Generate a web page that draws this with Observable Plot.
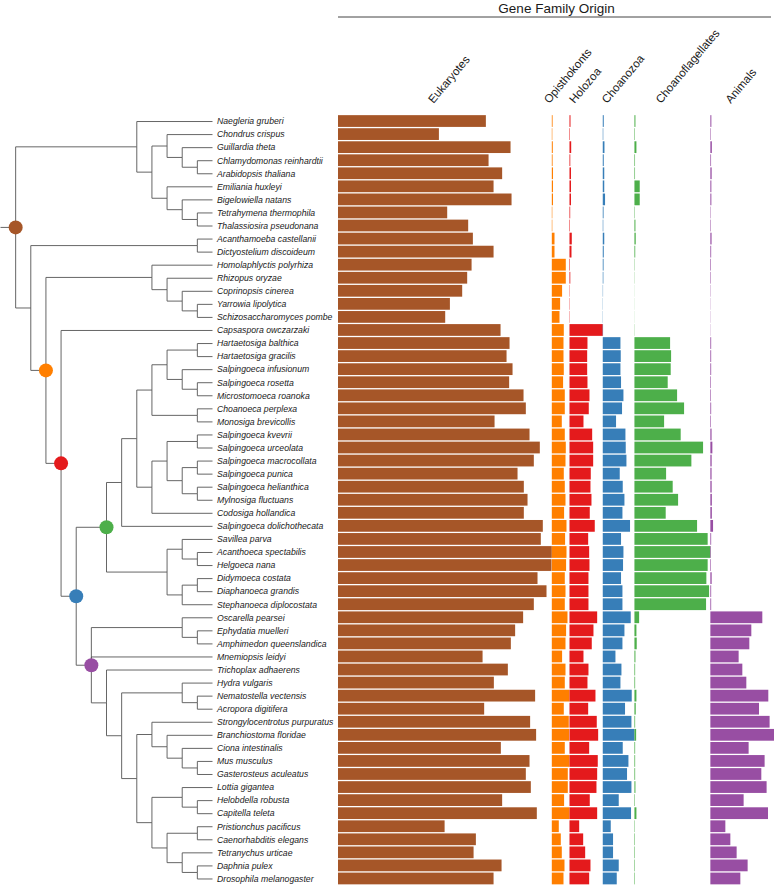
<!DOCTYPE html>
<html><head><meta charset="utf-8">
<script src="https://cdn.jsdelivr.net/npm/d3@7"></script>
<script src="https://cdn.jsdelivr.net/npm/@observablehq/plot@0.6"></script>
<style>
html,body{margin:0;padding:0;background:#fff;overflow:hidden}
#chart{display:flex;width:774px;height:885px}
#chart svg{display:block}
</style></head><body><div id="chart"></div>
<script>
// ---- Tree topology (Newick, internal clade labels mark gene-family origins) ----
const newick =
  "((Naegleria_gruberi,((Chondrus_crispus,(Guillardia_theta,(Chlamydomonas_reinhardtii,Arabidopsis_thaliana))),(Emiliania_huxleyi,(Bigelowiella_natans,(Tetrahymena_thermophila,Thalassiosira_pseudonana))))),"
+ "((Acanthamoeba_castellanii,Dictyostelium_discoideum),"
+ "((Homolaphlyctis_polyrhiza,(Rhizopus_oryzae,(Coprinopsis_cinerea,(Yarrowia_lipolytica,Schizosaccharomyces_pombe)))),"
+ "(Capsaspora_owczarzaki,"
+ "(((((((Hartaetosiga_balthica,Hartaetosiga_gracilis),(Salpingoeca_infusionum,(Salpingoeca_rosetta,Microstomoeca_roanoka))),(Choanoeca_perplexa,Monosiga_brevicollis)),"
+ "(((Salpingoeca_kvevrii,Salpingoeca_urceolata),((Salpingoeca_macrocollata,Salpingoeca_punica),(Salpingoeca_helianthica,Mylnosiga_fluctuans))),Codosiga_hollandica)),Salpingoeca_dolichothecata),"
+ "((Savillea_parva,(Acanthoeca_spectabilis,Helgoeca_nana)),((Didymoeca_costata,Diaphanoeca_grandis),Stephanoeca_diplocostata)))Choanoflagellates,"
+ "((Oscarella_pearsei,(Ephydatia_muelleri,Amphimedon_queenslandica)),Mnemiopsis_leidyi,"
+ "(Trichoplax_adhaerens,((Hydra_vulgaris,(Nematostella_vectensis,Acropora_digitifera)),"
+ "((Strongylocentrotus_purpuratus,(Branchiostoma_floridae,(Ciona_intestinalis,(Mus_musculus,Gasterosteus_aculeatus)))),"
+ "((Lottia_gigantea,(Helobdella_robusta,Capitella_teleta)),((Pristionchus_pacificus,Caenorhabditis_elegans),(Tetranychus_urticae,(Daphnia_pulex,Drosophila_melanogaster))))))))Animals"
+ ")Choanozoa)Holozoa)Opisthokonts))Eukaryotes;";

// ---- Species (rows) ----
const species = ["Naegleria gruberi","Chondrus crispus","Guillardia theta","Chlamydomonas reinhardtii","Arabidopsis thaliana","Emiliania huxleyi","Bigelowiella natans","Tetrahymena thermophila","Thalassiosira pseudonana","Acanthamoeba castellanii","Dictyostelium discoideum","Homolaphlyctis polyrhiza","Rhizopus oryzae","Coprinopsis cinerea","Yarrowia lipolytica","Schizosaccharomyces pombe","Capsaspora owczarzaki","Hartaetosiga balthica","Hartaetosiga gracilis","Salpingoeca infusionum","Salpingoeca rosetta","Microstomoeca roanoka","Choanoeca perplexa","Monosiga brevicollis","Salpingoeca kvevrii","Salpingoeca urceolata","Salpingoeca macrocollata","Salpingoeca punica","Salpingoeca helianthica","Mylnosiga fluctuans","Codosiga hollandica","Salpingoeca dolichothecata","Savillea parva","Acanthoeca spectabilis","Helgoeca nana","Didymoeca costata","Diaphanoeca grandis","Stephanoeca diplocostata","Oscarella pearsei","Ephydatia muelleri","Amphimedon queenslandica","Mnemiopsis leidyi","Trichoplax adhaerens","Hydra vulgaris","Nematostella vectensis","Acropora digitifera","Strongylocentrotus purpuratus","Branchiostoma floridae","Ciona intestinalis","Mus musculus","Gasterosteus aculeatus","Lottia gigantea","Helobdella robusta","Capitella teleta","Pristionchus pacificus","Caenorhabditis elegans","Tetranychus urticae","Daphnia pulex","Drosophila melanogaster"];

// ---- Gene families per origin (hundreds), same order as species ----
const eukaryotes = [148,101,172.7,150.7,164.3,155.7,173.7,109.3,130.3,135,155.7,133.7,129.3,124.3,112,107.3,162.7,171.7,168.7,174.7,171.3,185.7,188,156.7,191.7,202,196,179.7,186,189.7,186,205,203,214,213.7,199.7,208.7,196,185.3,177.3,173,144.7,170,156,197.3,146.3,192.3,198.3,163,191.7,188,193,164.3,199,106.7,138,135.7,163.7,155.7];
const opisthokonts = [0.8,0.5,1,0.8,1.2,1.2,1.2,0.5,0.5,2.7,2.7,14,14,10.3,8.3,7.7,12,11.7,11.7,12,11.3,13,13,10,13,14,13.7,12,13,13.7,12.3,14.7,13.3,14.7,14.3,13,13.7,13,15.7,14.3,13.7,10.3,13.7,13,17.7,12,17,17.3,13,17.7,16,16,12.3,17.7,7,9,10,12.7,11.7];
const holozoa = [1,0.5,1.7,0.8,1.5,1.5,1.5,0.7,0.5,2.3,2,0.5,0.8,0.3,0.3,0.3,33.3,18,17.7,17.7,18,20,19.3,14,22.7,23.7,23.7,21.3,21,22,20.3,25.3,18.7,19.7,20,19,19,19,27.7,24,22.3,14,19,18,26,18.7,27.3,28.7,19.7,28.3,27.7,27,20.3,27.7,9.7,13.7,15.7,21,19.7];
const choanozoa = [1,0.5,1.7,1,1.5,1.5,2.3,0.8,0.5,1.5,1,0.8,0.6,0.3,0.2,0.2,0.3,17.7,18,17.7,18.3,20.7,19.3,13.3,22.7,23,23.7,17,20,21.7,19.7,27.3,18.3,20.7,20.3,18.3,19.7,19.7,28,21.7,19.7,12.7,18.7,17.7,29,22.3,28.7,31.7,20,25.7,24.3,28.7,16,28.3,8,10.3,10.3,16,14];
const choanoflagellates = [1,0.5,2,0.6,0.6,5.3,5.3,0.4,1,1.3,0.8,0.3,0.2,0.1,0.1,0.1,0.2,35.7,36.7,36.3,33.3,42.7,49.7,29.7,46.3,68.7,57,31.7,38.3,43.7,31.3,62.7,73.3,76,73.3,72,74.7,71.7,4.7,2,2.3,1,0.7,0.7,2,1.3,0.7,1.7,0.7,0.7,0.7,1,0.5,2,0.4,0.5,0.5,0.5,0.5];
const animals = [1,0.5,1.5,0.7,1.3,1,1,0.4,0.5,1.2,0.8,0.6,0.5,0.3,0.2,0.2,0.2,0.8,0.8,0.8,0.6,0.6,0.8,0.6,1.2,2,1.3,1.2,1.3,1.5,1.5,2.7,0.8,0.6,0.6,1.3,0.8,0.8,52,41,39,28.3,32,36,58,48.7,59.3,63.7,38.3,54.3,51,56.3,33.3,57.7,15,20,26.3,37.3,30];

const columns = ["Eukaryotes","Opisthokonts","Holozoa","Choanozoa","Choanoflagellates","Animals"];
const colors = ["#A65628","#FF7F00","#E41A1C","#377EB8","#4DAF4A","#984EA3"];
const title = "Gene Family Origin";

// ---- Parse & lay out tree (leaves equally spaced, nodes by height) ----
function parseNewick(s) {
  let i = 0;
  function node() {
    const n = {children: [], name: ""};
    if (s[i] === "(") {
      i++;
      n.children.push(node());
      while (s[i] === ",") { i++; n.children.push(node()); }
      i++;
    }
    let name = "";
    while (i < s.length && !",();".includes(s[i])) name += s[i++];
    n.name = name.replace(/_/g, " ").trim();
    return n;
  }
  return node();
}
const tree = parseNewick(newick);
function height(n) { n.h = n.children.length ? 1 + Math.max(...n.children.map(height)) : 0; return n.h; }
height(tree);
const H = tree.h;
const leaves = [];
function place(n) {
  if (!n.children.length) { n.row = leaves.length; leaves.push(n); }
  else { n.children.forEach(place); n.row = (n.children[0].row + n.children[n.children.length - 1].row) / 2; }
  n.depth = H - n.h;
}
place(tree);
const nodes = [], links = [];
(function walk(n) {
  nodes.push(n);
  n.children.forEach(c => { links.push({x1: n.depth, y1: n.row, x2: c.depth, y2: c.row}); walk(c); });
})(tree);
links.push({x1: -1, y1: tree.row, x2: 0, y2: tree.row}); // root edge
const cladeNodes = nodes.filter(n => columns.includes(n.name));
const nRows = leaves.length;

const font = "'Liberation Sans', Arial, Helvetica, sans-serif";
const H_PX = 885, TOP = 114.5;

const treePlot = Plot.plot({
  width: 338, height: H_PX,
  marginTop: TOP, marginBottom: 0, marginLeft: 0, marginRight: 126,
  style: {fontFamily: font, background: "white"},
  x: {domain: [-1, H], axis: null},
  y: {domain: [-0.5, nRows - 0.5], reverse: true, axis: null},
  color: {domain: columns, range: colors},
  marks: [
    Plot.link(links, {x1: "x1", y1: "y1", x2: "x2", y2: "y2", curve: "step-before", stroke: "#555", strokeWidth: 0.9}),
    Plot.dot(cladeNodes, {x: "depth", y: "row", r: 7, fill: "name"}),
    Plot.text(leaves, {x: "depth", y: "row", text: "name", dx: 4.5, textAnchor: "start", fontStyle: "italic", fontSize: 8.7, fill: "#222"})
  ]
});

// ---- Bars: each origin column offset by the maxima of the previous ones ----
const values = [eukaryotes, opisthokonts, holozoa, choanozoa, choanoflagellates, animals];
const maxes = values.map(v => d3.max(v));
const offsets = Array.from(d3.cumsum([0, ...maxes.slice(0, -1)]));
const total = d3.sum(maxes);
const rowOf = new Map(leaves.map(l => [l.name, l.row]));
const bars = [];
columns.forEach((c, k) => species.forEach((s, i) => {
  const r = rowOf.get(s);
  bars.push({col: c, x1: offsets[k], x2: offsets[k] + values[k][i], y1: r - 0.5, y2: r + 0.5});
}));
const headers = columns.map((c, k) => ({col: c, x: offsets[k] + maxes[k] / 2}));

const barPlot = Plot.plot({
  width: 436, height: H_PX,
  marginTop: TOP, marginBottom: 0, marginLeft: 0, marginRight: 0,
  style: {fontFamily: font, background: "white", overflow: "visible"},
  x: {domain: [0, total], axis: null},
  y: {domain: [-0.5, nRows - 0.5], reverse: true, axis: null},
  color: {domain: columns, range: colors},
  marks: [
    Plot.rect(bars, {x1: "x1", x2: "x2", y1: "y1", y2: "y2", fill: "col", insetTop: 0.65, insetBottom: 0.65}),
    Plot.text(headers, {x: "x", text: "col", frameAnchor: "top", dx: -12, dy: -11, rotate: -50, textAnchor: "start", lineAnchor: "bottom", fontSize: 11.5, fill: "#1a1a1a"}),
    Plot.text([title], {frameAnchor: "top", dy: -102, lineAnchor: "bottom", fontSize: 13.5, fill: "#1a1a1a"}),
    Plot.frame({anchor: "top", dy: -98, stroke: "#444", strokeWidth: 1, insetRight: 4})
  ]
});

const chart = document.getElementById("chart");
chart.append(treePlot, barPlot);
</script></body></html>
